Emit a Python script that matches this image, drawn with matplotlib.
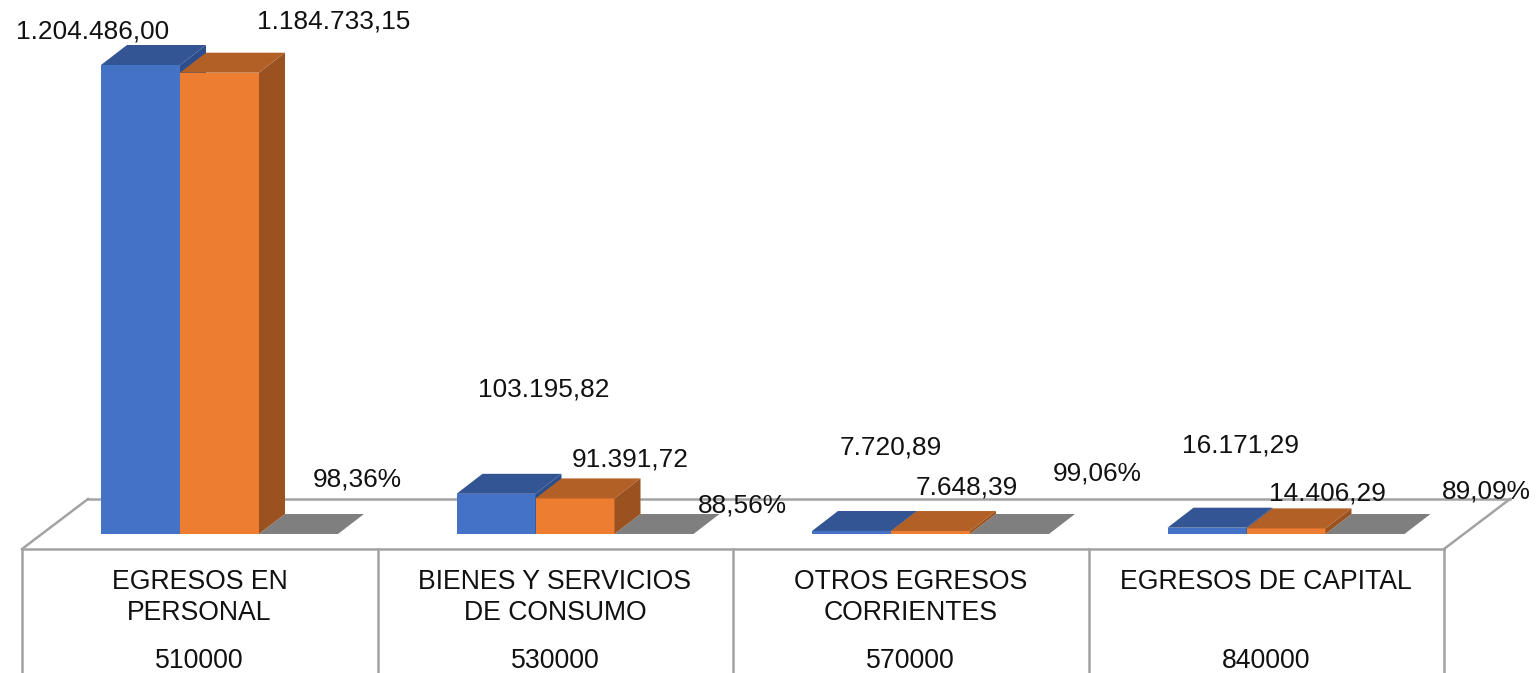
"""Grouped pseudo-3D columns on a table floor, budget execution per group."""
import matplotlib

matplotlib.use("Agg")
import matplotlib.pyplot as plt
import numpy as np
from matplotlib.patches import Polygon
from matplotlib.transforms import Affine2D

W, H = 1537, 673

categories = [
    "EGRESOS EN\nPERSONAL",
    "BIENES Y SERVICIOS\nDE CONSUMO",
    "OTROS EGRESOS\nCORRIENTES",
    "EGRESOS DE CAPITAL",
]
codes = ["510000", "530000", "570000", "840000"]
codificado = [1204486.00, 103195.82, 7720.89, 16171.29]
devengado = [1184733.15, 91391.72, 7648.39, 14406.29]
ejecucion = [0.9836, 0.8856, 0.9906, 0.8909]

# Pixel layout of the chart, measured on the reference
BASE_PX = 534
PX_PER_UNIT = 469 / 1204486.00
GROUP_PX = 355.5
GROUP_CENTER_PX = 199.5
BAR_PX = 79
DEPTH_X_PX, DEPTH_Y_PX = 26, 20
FIRST_BAR_OFFSET_PX = -98.5
BLUE = ("#4472C4", "#335593", "#2C4E8C")
ORANGE = ("#ED7D31", "#B26025", "#9A5320")
GRAY = ("#7F7F7F", "#7F7F7F", "#7F7F7F")
LINE = "#A3A3A3"
LINE_W = 1.8
FS_VALUE = 18.9
FS_CAT = 19.2

# Hand-placed data labels, as in the original chart (centre x, centre y in pixels)
cod_pos = [(93, 32), (544, 390), (891, 447), (1240, 446)]
dev_pos = [(334, 22), (630, 459), (967, 488), (1327, 493)]
pct_pos = [(357, 480), (742, 506), (1097, 473), (1486, 491)]


def money(v):
    return f"{v:,.2f}".replace(",", "_").replace(".", ",").replace("_", ".")


def percent(v):
    return f"{v * 100:.2f}".replace(".", ",") + "%"


def draw_bar(ax, x, value, width, dx, dy, colors, zorder):
    front, top, side = colors
    ax.add_patch(Polygon([(x, 0), (x + width, 0), (x + width, value), (x, value)],
                         facecolor=front, edgecolor="none", zorder=zorder))
    ax.add_patch(Polygon([(x, value), (x + width, value), (x + width + dx, value + dy), (x + dx, value + dy)],
                         facecolor=top, edgecolor="none", zorder=zorder))
    ax.add_patch(Polygon([(x + width, 0), (x + width + dx, dy), (x + width + dx, value + dy), (x + width, value)],
                         facecolor=side, edgecolor="none", zorder=zorder))


plt.rcParams["font.family"] = ["Liberation Sans", "DejaVu Sans"]
fig = plt.figure(figsize=(W / 100, H / 100), dpi=100)
ax = fig.add_axes([0, 0, 1, 1])
ax.set_xlim(-GROUP_CENTER_PX / GROUP_PX, (W - GROUP_CENTER_PX) / GROUP_PX)
ax.set_ylim((BASE_PX - H) / PX_PER_UNIT, BASE_PX / PX_PER_UNIT)
ax.axis("off")

# Everything that is not data is placed in image pixels (origin top left)
px = Affine2D().scale(1, -1).translate(0, H)

# floor and table frame
ax.plot([88, 1510], [499, 499], color=LINE, lw=LINE_W, transform=px, zorder=1)
ax.plot([22, 1444], [549, 549], color=LINE, lw=LINE_W, transform=px, zorder=1)
ax.plot([22, 88], [549, 499], color=LINE, lw=LINE_W, transform=px, zorder=1)
ax.plot([1444, 1510], [549, 499], color=LINE, lw=LINE_W, transform=px, zorder=1)
for i in range(5):
    xp = 22 + i * GROUP_PX
    ax.plot([xp, xp], [549, H], color=LINE, lw=LINE_W, transform=px, zorder=1)

width = BAR_PX / GROUP_PX
dx = DEPTH_X_PX / GROUP_PX
dy = DEPTH_Y_PX / PX_PER_UNIT
start = FIRST_BAR_OFFSET_PX / GROUP_PX
for i, x0 in enumerate(np.arange(len(categories))):
    draw_bar(ax, x0 + start, codificado[i], width, dx, dy, BLUE, 3)
    draw_bar(ax, x0 + start + 2 * width, ejecucion[i], width, dx, dy, GRAY, 3)
    draw_bar(ax, x0 + start + width, devengado[i], width, dx, dy, ORANGE, 4)

    center = GROUP_CENTER_PX + i * GROUP_PX
    for j, line in enumerate(categories[i].split("\n")):
        ax.text(center, 589 + 31 * j, line, transform=px, ha="center", va="baseline",
                fontsize=FS_CAT, color="#111111", zorder=6)
    ax.text(center, 668, codes[i], transform=px, ha="center", va="baseline",
            fontsize=FS_CAT, color="#111111", zorder=6)

    ax.text(*cod_pos[i], money(codificado[i]), transform=px, ha="center", va="center",
            fontsize=FS_VALUE, color="#111111", zorder=6)
    ax.text(*dev_pos[i], money(devengado[i]), transform=px, ha="center", va="center",
            fontsize=FS_VALUE, color="#111111", zorder=6)
    ax.text(*pct_pos[i], percent(ejecucion[i]), transform=px, ha="center", va="center",
            fontsize=FS_VALUE, color="#111111", zorder=6)

fig.savefig("out.png", dpi=100, facecolor="white")
